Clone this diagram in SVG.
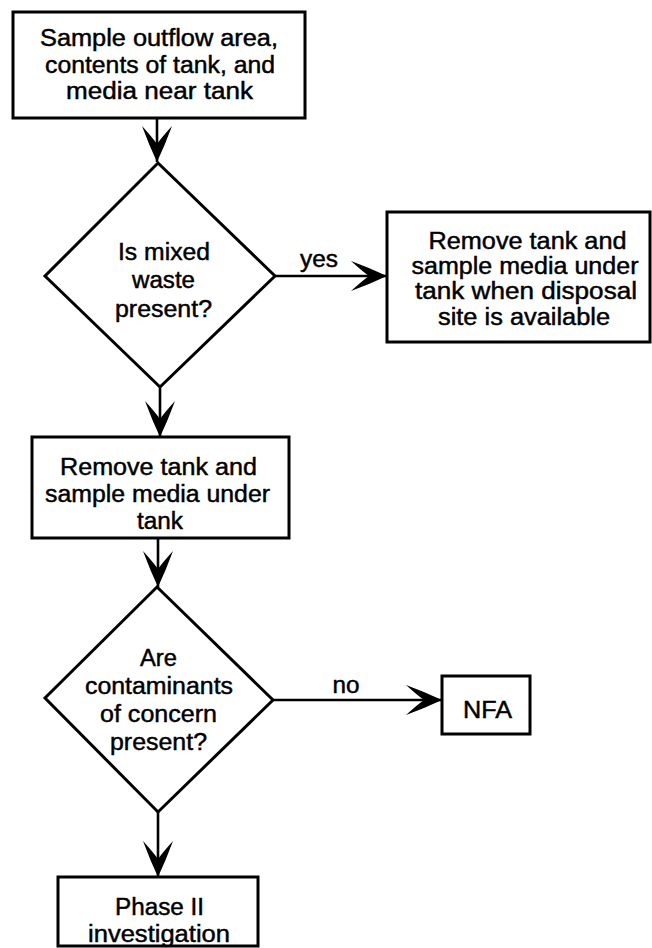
<svg xmlns="http://www.w3.org/2000/svg" width="652" height="948" viewBox="0 0 652 948">
  <style>
    .box { fill: #fff; stroke: #000; stroke-width: 3; }
    .dia { fill: #fff; stroke: #000; stroke-width: 3; stroke-linejoin: miter; }
    .con { fill: none; stroke: #000; stroke-width: 2.6; }
    text { font-family: "Liberation Sans", Arial, Helvetica, sans-serif; font-size: 23px; fill: #000; stroke: #000; stroke-width: 0.45; text-anchor: middle; }
  </style>
  <defs>
    <marker id="ah" viewBox="0 0 38 30" refX="37" refY="15" markerWidth="38" markerHeight="30" markerUnits="userSpaceOnUse" orient="auto">
      <path d="M37,15 Q20,7 1,0 Q12,10 19,15 Q12,20 1,30 Q20,23 37,15 Z" fill="#000"/>
    </marker>
  </defs>
  <rect width="652" height="948" fill="#fff"/>

  <g id="connectors">
    <path class="con" d="M157,118 L157,162" marker-end="url(#ah)"/>
    <path class="con" d="M160,387 L160,437" marker-end="url(#ah)"/>
    <path class="con" d="M158,538 L158,587" marker-end="url(#ah)"/>
    <path class="con" d="M158,812 L158,877" marker-end="url(#ah)"/>
    <path class="con" d="M275,276 L387,276" marker-end="url(#ah)"/>
    <path class="con" d="M273,700 L442,700" marker-end="url(#ah)"/>
    <text x="319" y="267" textLength="38" lengthAdjust="spacingAndGlyphs">yes</text>
    <text x="346" y="693" textLength="27" lengthAdjust="spacingAndGlyphs">no</text>
  </g>

  <g id="n1">
    <rect class="box" x="13" y="12" width="292" height="106"/>
    <text x="159" y="46" textLength="238" lengthAdjust="spacingAndGlyphs">Sample outflow area,</text>
    <text x="160" y="73" textLength="230" lengthAdjust="spacingAndGlyphs">contents of tank, and</text>
    <text x="159.5" y="99" textLength="187" lengthAdjust="spacingAndGlyphs">media near tank</text>
  </g>

  <g id="d1">
    <polygon class="dia" points="158,163 275,276 160,387 45,276"/>
    <text x="164" y="260" textLength="92" lengthAdjust="spacingAndGlyphs">Is mixed</text>
    <text x="163.5" y="288" textLength="63" lengthAdjust="spacingAndGlyphs">waste</text>
    <text x="163.5" y="317" textLength="97" lengthAdjust="spacingAndGlyphs">present?</text>
  </g>

  <g id="n2">
    <rect class="box" x="387" y="212" width="263" height="130"/>
    <text x="527.5" y="249" textLength="198" lengthAdjust="spacingAndGlyphs">Remove tank and</text>
    <text x="525" y="274" textLength="227" lengthAdjust="spacingAndGlyphs">sample media under</text>
    <text x="526" y="299" textLength="222" lengthAdjust="spacingAndGlyphs">tank when disposal</text>
    <text x="524" y="325" textLength="172" lengthAdjust="spacingAndGlyphs">site is available</text>
  </g>

  <g id="n3">
    <rect class="box" x="32" y="437" width="257" height="101"/>
    <text x="158.5" y="475" textLength="197" lengthAdjust="spacingAndGlyphs">Remove tank and</text>
    <text x="157.5" y="502" textLength="225" lengthAdjust="spacingAndGlyphs">sample media under</text>
    <text x="160" y="529" textLength="46" lengthAdjust="spacingAndGlyphs">tank</text>
  </g>

  <g id="d2">
    <polygon class="dia" points="157,587 273,700 158,812 45,698"/>
    <text x="158.5" y="666" textLength="37" lengthAdjust="spacingAndGlyphs">Are</text>
    <text x="159" y="694" textLength="148" lengthAdjust="spacingAndGlyphs">contaminants</text>
    <text x="158.5" y="722" textLength="117" lengthAdjust="spacingAndGlyphs">of concern</text>
    <text x="158.5" y="750" textLength="97" lengthAdjust="spacingAndGlyphs">present?</text>
  </g>

  <g id="nfa">
    <rect class="box" x="442" y="676" width="88" height="58"/>
    <text x="487.5" y="718" textLength="49" lengthAdjust="spacingAndGlyphs">NFA</text>
  </g>

  <g id="n4">
    <rect class="box" x="58" y="877" width="200" height="69"/>
    <text x="159.5" y="915" textLength="89" lengthAdjust="spacingAndGlyphs">Phase II</text>
    <text x="159" y="942" textLength="142" lengthAdjust="spacingAndGlyphs">investigation</text>
  </g>
</svg>
